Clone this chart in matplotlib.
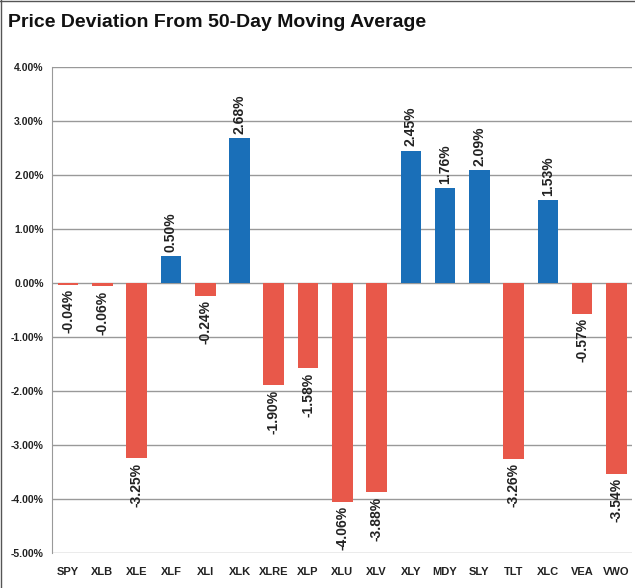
import matplotlib.pyplot as plt
from matplotlib.ticker import FuncFormatter

tickers = ['SPY', 'XLB', 'XLE', 'XLF', 'XLI', 'XLK', 'XLRE', 'XLP', 'XLU',
           'XLV', 'XLY', 'MDY', 'SLY', 'TLT', 'XLC', 'VEA', 'VWO']
deviation = [-0.04, -0.06, -3.25, 0.50, -0.24, 2.68, -1.90, -1.58, -4.06,
             -3.88, 2.45, 1.76, 2.09, -3.26, 1.53, -0.57, -3.54]

plt.rcParams['font.family'] = ['Liberation Sans', 'DejaVu Sans']

blue = '#1a6fb8'
red = '#e8584a'
colors = [blue if v >= 0 else red for v in deviation]

fig = plt.figure(figsize=(6.35, 5.88), dpi=100)
ax = fig.add_axes([0.082, 0.060, 0.913, 0.826])

x = range(len(tickers))
bars = ax.bar(x, deviation, width=0.6, color=colors, zorder=3)

for bar, v in zip(bars, deviation):
    xc = bar.get_x() + bar.get_width() / 2
    if v >= 0:
        ax.text(xc, v + 0.08, f'{v:.2f}%', rotation=90, ha='center', va='bottom',
                fontsize=10, fontweight='bold', color='#222222', zorder=4)
    else:
        ax.text(xc, v - 0.08, f'{v:.2f}%', rotation=90, ha='center', va='top',
                fontsize=10, fontweight='bold', color='#222222', zorder=4)

ax.set_ylim(-5, 4)
ax.set_xlim(-0.47, 16.45)
ax.set_yticks(range(-5, 5))
ax.yaxis.set_major_formatter(FuncFormatter(lambda v, p: f'{v:.2f}%'))
ax.set_xticks(list(x))
ax.set_xticklabels(tickers)
ax.tick_params(axis='both', length=0, colors='#222222')
ax.tick_params(axis='y', labelsize=7.5, pad=6)
ax.tick_params(axis='x', labelsize=8, pad=10)
for lab in ax.get_xticklabels() + ax.get_yticklabels():
    lab.set_fontweight('bold')

ax.grid(axis='y', color='#999999', linewidth=1, zorder=0)
for side in ['top', 'right', 'bottom']:
    ax.spines[side].set_visible(False)
ax.spines['left'].set_color('#999999')

fig.text(0.013, 0.962, 'Price Deviation From 50-Day Moving Average', fontsize=14,
         fontweight='bold', ha='left', va='center', color='#111111')

fig.add_artist(plt.Line2D([0, 1], [0.998, 0.998], color='#555555', linewidth=1))
fig.add_artist(plt.Line2D([0.002, 0.002], [0, 1], color='#555555', linewidth=1))

fig.savefig('out.png', dpi=100)
